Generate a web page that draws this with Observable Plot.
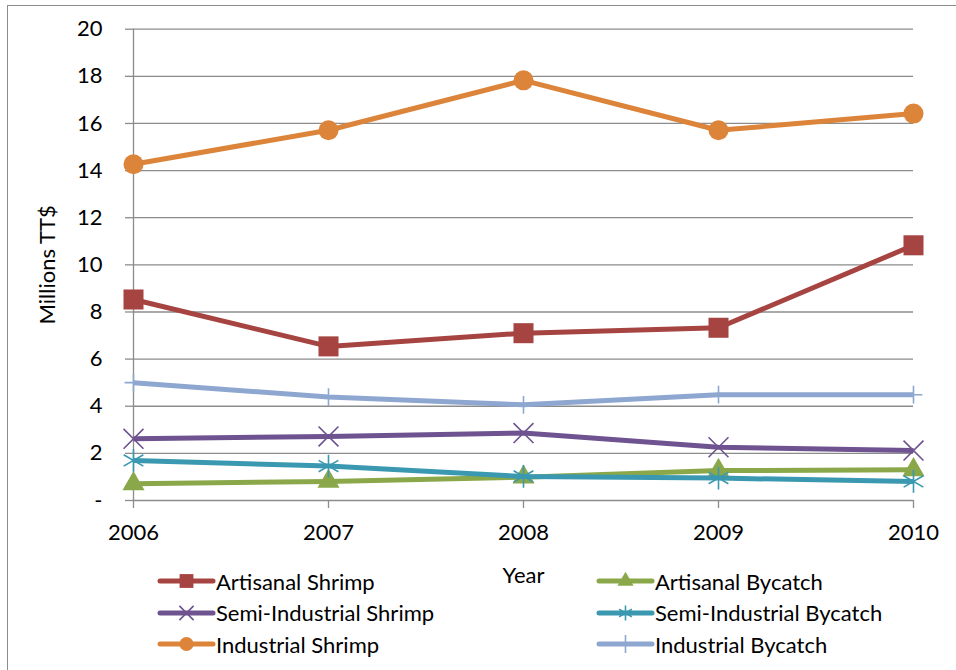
<!DOCTYPE html>
<html>
<head>
<meta charset="utf-8">
<script src="https://cdn.jsdelivr.net/npm/d3@7"></script>
<script src="https://cdn.jsdelivr.net/npm/@observablehq/plot@0.6"></script>
<style>
  html, body { margin: 0; padding: 0; background: #fff; }
  #wrap { position: relative; width: 956px; height: 670px; overflow: hidden; font-family: Lato, "Open Sans", sans-serif; }
  #frame { position: absolute; left: 7px; top: 5px; width: 960px; height: 700px; border-top: 1.5px solid #8c8c8c; border-left: 1.5px solid #8c8c8c; pointer-events: none; }
  #legend { position: absolute; left: 0; top: 566px; width: 956px; }
  .item { position: absolute; display: flex; align-items: center; font-size: 22px; color: #000; white-space: nowrap; }
  .item svg { margin-right: 0px; }
</style>
</head>
<body>
<div id="wrap">
  <div id="chart"></div>
  <div id="frame"></div>
  <div id="legend"></div>
</div>
<script>
// ---- data ----
const years = [2006, 2007, 2008, 2009, 2010];
const seriesNames = ["Artisanal Shrimp", "Artisanal Bycatch", "Semi-Industrial Shrimp", "Semi-Industrial Bycatch", "Industrial Shrimp", "Industrial Bycatch"];
const artisanalShrimp = [8.53, 6.54, 7.10, 7.33, 10.83];
const artisanalBycatch = [0.71, 0.81, 0.99, 1.27, 1.30];
const semiIndustrialShrimp = [2.62, 2.72, 2.86, 2.26, 2.12];
const semiIndustrialBycatch = [1.70, 1.46, 1.02, 0.95, 0.81];
const industrialShrimp = [14.27, 15.71, 17.83, 15.71, 16.42];
const industrialBycatch = [5.00, 4.39, 4.06, 4.49, 4.49];
const yTicks = [0, 2, 4, 6, 8, 10, 12, 14, 16, 18, 20];
const yTickLabels = ["-", "2", "4", "6", "8", "10", "12", "14", "16", "18", "20"];

// ---- styles ----
const colors = ["#A64441", "#8AA84A", "#6E5390", "#3A98B0", "#DC8439", "#8EA7D0"];
const symbols = ["square", "triangle", "times", "asterisk", "circle", "plus"];
const radii = [11.3, 8.2, 9.1, 10.8, 10, 5.8];
const seriesValues = [artisanalShrimp, artisanalBycatch, semiIndustrialShrimp, semiIndustrialBycatch, industrialShrimp, industrialBycatch];

const rows = [];
seriesNames.forEach((name, i) => {
  years.forEach((yr, j) => rows.push({ series: name, idx: i, year: yr, value: seriesValues[i][j] }));
});

const gray = "#8c8c8c";
const marks = [
  Plot.ruleY(yTicks, { stroke: gray, strokeWidth: 1.3 }),
  Plot.axisY({
    ticks: yTicks,
    tickFormat: d => yTickLabels[yTicks.indexOf(d)],
    tickSize: 8,
    tickPadding: 23,
    stroke: gray,
    strokeWidth: 1.3,
    fontSize: 22,
    label: "Millions TT$",
    labelAnchor: "center",
    labelArrow: "none",
    labelOffset: 94
  }),
  Plot.axisX({
    ticks: years,
    tickFormat: d => String(d),
    tickSize: 8,
    tickPadding: 16,
    stroke: gray,
    strokeWidth: 1.3,
    fontSize: 22,
    label: "Year",
    labelAnchor: "center",
    labelArrow: "none",
    labelOffset: 82
  }),
  Plot.ruleX([2006], { y1: 0, y2: 20, stroke: gray, strokeWidth: 1.3 })
];

seriesNames.forEach((name, i) => {
  const d = rows.filter(r => r.idx === i);
  marks.push(Plot.line(d, { x: "year", y: "value", stroke: colors[i], strokeWidth: 5, strokeLinejoin: "round", strokeLinecap: "butt" }));
  const fillSym = ["square", "triangle", "circle"].includes(symbols[i]);
  marks.push(Plot.dot(d, {
    x: "year", y: "value", symbol: () => symbols[i], r: radii[i],
    fill: fillSym ? colors[i] : "none",
    stroke: fillSym ? "none" : colors[i],
    strokeWidth: 1.6
  }));
});

const chart = Plot.plot({
  width: 956,
  height: 670,
  marginLeft: 133,
  marginRight: 43,
  marginTop: 28.7,
  marginBottom: 170,
  style: { fontFamily: "Lato, 'Open Sans', sans-serif", fontSize: "22px", color: "#000", background: "transparent" },
  x: { type: "linear", domain: [2006, 2010] },
  y: { domain: [0, 20] },
  symbol: { type: "identity" },
  marks
});
document.getElementById("chart").appendChild(chart);

// ---- legend (HTML, below the plot area) ----
const legend = document.getElementById("legend");
const legendPos = [
  { left: 155, top: 0 }, { left: 594, top: 0 },
  { left: 155, top: 31.5 }, { left: 594, top: 31.5 },
  { left: 155, top: 63 }, { left: 594, top: 63 }
];
const legendR = [7.8, 6, 6.5, 7, 7, 5.8];
seriesNames.forEach((name, i) => {
  const div = document.createElement("div");
  div.className = "item";
  div.style.left = legendPos[i].left + "px";
  div.style.top = legendPos[i].top + "px";
  const ns = "http://www.w3.org/2000/svg";
  const s = document.createElementNS(ns, "svg");
  s.setAttribute("width", 61); s.setAttribute("height", 30);
  const ln = document.createElementNS(ns, "line");
  ln.setAttribute("x1", 5); ln.setAttribute("x2", 58); ln.setAttribute("y1", 15); ln.setAttribute("y2", 15);
  ln.setAttribute("stroke", colors[i]); ln.setAttribute("stroke-width", 5); ln.setAttribute("stroke-linecap", "round");
  s.appendChild(ln);
  const symMap = { square: d3.symbolSquare, triangle: d3.symbolTriangle, times: d3.symbolTimes, asterisk: d3.symbolAsterisk, circle: d3.symbolCircle, plus: d3.symbolPlus };
  const p = document.createElementNS(ns, "path");
  p.setAttribute("d", d3.symbol(symMap[symbols[i]], Math.PI * legendR[i] * legendR[i])());
  p.setAttribute("transform", "translate(31.5,15)");
  const fillSym = ["square", "triangle", "circle"].includes(symbols[i]);
  p.setAttribute("fill", fillSym ? colors[i] : "none");
  p.setAttribute("stroke", fillSym ? "none" : colors[i]);
  p.setAttribute("stroke-width", 1.6);
  s.appendChild(p);
  div.appendChild(s);
  const t = document.createElement("span");
  t.textContent = name;
  div.appendChild(t);
  legend.appendChild(div);
});
</script>
</body>
</html>
